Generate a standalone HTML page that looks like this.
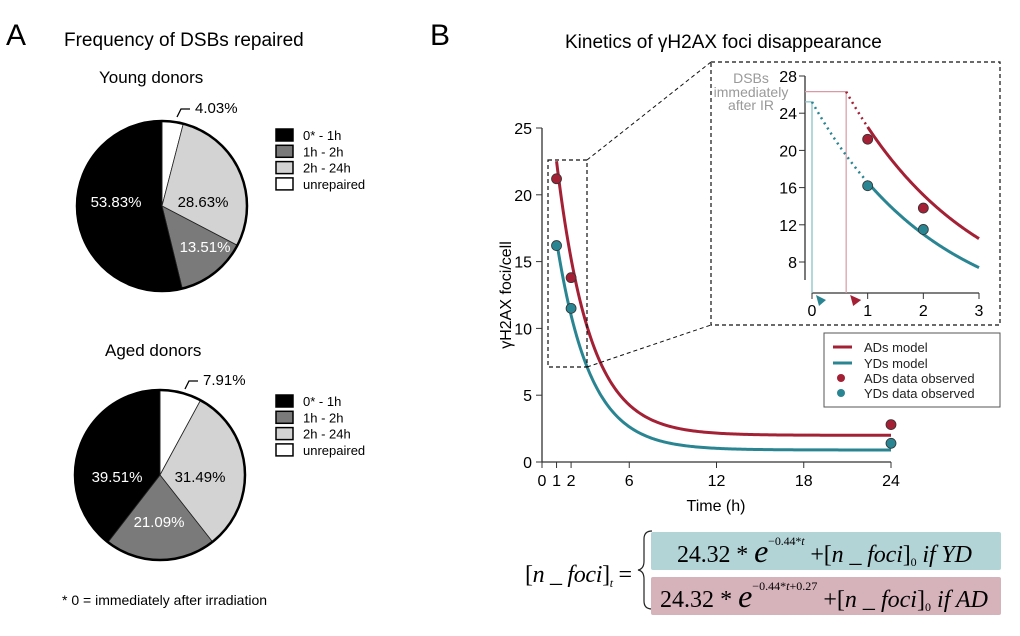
<!DOCTYPE html>
<html><head><meta charset="utf-8">
<style>
body{margin:0;background:#fff;}
svg{display:block;font-family:"Liberation Sans",Arial,sans-serif;}
.eq{font-family:"Liberation Serif","Times New Roman",serif;}
</style></head>
<body>
<svg id="fig" width="1020" height="636" viewBox="0 0 1020 636">
  <text x="6" y="45" font-size="30">A</text>
  <text x="64" y="46" font-size="19">Frequency of DSBs repaired</text>
  <text x="99" y="83" font-size="17">Young donors</text>
  <text x="105" y="356" font-size="17">Aged donors</text>
  <g id="pies"></g>
  <text x="62" y="605" font-size="14">* 0 = immediately after irradiation</text>

  <text x="430" y="45" font-size="30">B</text>
  <text x="565" y="48" font-size="19">Kinetics of γH2AX foci disappearance</text>
  <g id="main"></g>
  <g id="inset"></g>

  <g>
    <rect x="824" y="333" width="176" height="74" fill="#fff" stroke="#555" stroke-width="1"/>
    <line x1="833" y1="347" x2="852" y2="347" stroke="#a32035" stroke-width="3"/>
    <text x="864" y="352" font-size="13" fill="#222">ADs model</text>
    <line x1="833" y1="363" x2="852" y2="363" stroke="#2a8592" stroke-width="3"/>
    <text x="864" y="368" font-size="13" fill="#222">YDs model</text>
    <circle cx="841" cy="378" r="4" fill="#a32035"/>
    <text x="864" y="383" font-size="13" fill="#222">ADs data observed</text>
    <circle cx="841" cy="393" r="4" fill="#2a8592"/>
    <text x="864" y="398" font-size="13" fill="#222">YDs data observed</text>
  </g>

  <g class="eq">
    <text x="525" y="582" font-size="24" font-style="italic" textLength="107" lengthAdjust="spacing"><tspan font-style="normal">[</tspan>n _ foci<tspan font-style="normal">]</tspan><tspan font-size="12" dy="5">t</tspan><tspan dy="-5" font-style="normal"> =</tspan></text>
    <path d="M652 531 q-8 0 -8 8 v22 q0 8 -6 9 q6 1 6 9 v22 q0 8 8 8" fill="none" stroke="#222" stroke-width="1.2"/>
    <rect x="651" y="532" width="350" height="38" rx="2" fill="#b3d4d7"/>
    <rect x="651" y="577" width="350" height="38" rx="2" fill="#d6b2bb"/>
    <text x="677" y="562" font-size="24" textLength="295" lengthAdjust="spacing">24.32 * <tspan font-style="italic" font-size="32">e</tspan><tspan font-size="12" dy="-17">−0.44*<tspan font-style="italic">t</tspan></tspan><tspan dy="17"> +[</tspan><tspan font-style="italic">n _ foci</tspan>]<tspan font-size="12" dy="4">0</tspan><tspan dy="-4" font-style="italic"> if YD</tspan></text>
    <text x="660" y="607" font-size="24" textLength="328" lengthAdjust="spacing">24.32 * <tspan font-style="italic" font-size="32">e</tspan><tspan font-size="12" dy="-17">−0.44*<tspan font-style="italic">t</tspan>+0.27</tspan><tspan dy="17"> +[</tspan><tspan font-style="italic">n _ foci</tspan>]<tspan font-size="12" dy="4">0</tspan><tspan dy="-4" font-style="italic"> if AD</tspan></text>
  </g>
</svg>
<script>
const NS="http://www.w3.org/2000/svg";
function mk(p,tag,attrs,txt){const e=document.createElementNS(NS,tag);for(const k in attrs)e.setAttribute(k,attrs[k]);if(txt!==undefined)e.textContent=txt;p.appendChild(e);return e;}

// ---- Pie data ----
const pieCategories=["unrepaired","2h - 24h","1h - 2h","0* - 1h"];
const youngValues=[4.03,28.63,13.51,53.83];
const agedValues=[7.91,31.49,21.09,39.51];
const pieColors=["#ffffff","#d3d3d3","#7a7a7a","#000000"];
const legendOrder=["0* - 1h","1h - 2h","2h - 24h","unrepaired"];

// ---- Kinetics data ----
const timesObs=[1,2,24];
const adObs=[21.2,13.8,2.8];
const ydObs=[16.2,11.5,1.4];
const mainXTicks=[0,1,2,6,12,18,24];
const mainYTicks=[0,5,10,15,20,25];
const insetXTicks=[0,1,2,3];
const insetYTicks=[8,12,16,20,24,28];
const modelA=[24.32];
const modelK=[0.44];
const adShift=[0.27];
const ydBase=[0.9];
const adBase=[2.0];

const pies=document.getElementById('pies');
function drawPie(cx,cy,r,vals,prefix,labelPos,legY){
  const tot=vals.reduce((a,b)=>a+b,0);let a0=-Math.PI/2;
  vals.forEach((v,i)=>{
    const a1=a0+v/tot*2*Math.PI;
    const x0=cx+r*Math.cos(a0),y0=cy+r*Math.sin(a0),x1=cx+r*Math.cos(a1),y1=cy+r*Math.sin(a1);
    const large=(a1-a0)>Math.PI?1:0;
    const p=mk(pies,'path',{d:`M${cx},${cy}L${x0},${y0}A${r},${r} 0 ${large} 1 ${x1},${y1}Z`,fill:pieColors[i],stroke:'#222','stroke-width':0.8});
    
    
    a0=a1;
  });
  mk(pies,'circle',{cx,cy,r,fill:'none',stroke:'#000','stroke-width':2.5});
  vals.forEach((v,i)=>{
    const lp=labelPos[i];
    const t=mk(pies,'text',{x:lp[0],y:lp[1],'font-size':15,fill:(i>=2?'#fff':'#000'),'text-anchor':i===0?'start':'middle'},v.toFixed(2)+'%');
    
    
  });
  const l0=labelPos[0];
  mk(pies,'path',{d:`M${l0[0]-18},${l0[1]+4} l4,-8 h9`,fill:'none',stroke:'#000','stroke-width':1.3});
  legendOrder.forEach((c,j)=>{
    const idx=pieCategories.indexOf(c);
    const y=legY+j*16.3;
    const r2=mk(pies,'rect',{x:276,y:y-6,width:17,height:12,fill:pieColors[idx],stroke:'#000','stroke-width':1.5});
    
    
    const t=mk(pies,'text',{x:303,y:y+5,'font-size':13},c);
    
    
  });
}
drawPie(162,206,85,youngValues,'young',[[195,113],[203,207],[205,252],[116,207]],135);
drawPie(160,475,85,agedValues,'aged',[[203,385],[200,482],[159,527],[117,482]],401);

// ---- Main chart ----
const main=document.getElementById('main');
const X=t=>542+t*(349/24), Y=v=>462-v*(334/25);
const ydModel=t=>modelA[0]*Math.exp(-modelK[0]*t)+ydBase[0];
const adModel=t=>modelA[0]*Math.exp(-modelK[0]*t+adShift[0])+adBase[0];
mk(main,'line',{x1:542,y1:Y(25),x2:542,y2:462,stroke:'#333','stroke-width':1.3});
mk(main,'line',{x1:542,y1:462,x2:X(24),y2:462,stroke:'#333','stroke-width':1.3});
mainYTicks.forEach(v=>{mk(main,'line',{x1:536,y1:Y(v),x2:542,y2:Y(v),stroke:'#333'});
  const t=mk(main,'text',{x:532,y:Y(v)+6,'font-size':16,'text-anchor':'end'},v);});
mainXTicks.forEach(v=>{mk(main,'line',{x1:X(v),y1:462,x2:X(v),y2:468,stroke:'#333'});
  const t=mk(main,'text',{x:X(v),y:486,'font-size':16,'text-anchor':'middle'},v);});
const xt=mk(main,'text',{x:716,y:511,'font-size':16,'text-anchor':'middle'},'Time (h)');
const yt=mk(main,'text',{x:0,y:0,'font-size':16,'text-anchor':'middle',transform:'translate(511,295) rotate(-90)'},'γH2AX foci/cell');
function curve(g,f,t0,t1,X,Y,attrs){let d='';for(let i=0;i<=200;i++){const t=t0+(t1-t0)*i/200;d+=(i?'L':'M')+X(t).toFixed(2)+','+Y(f(t)).toFixed(2);}return mk(g,'path',Object.assign({d,fill:'none'},attrs));}
const cy=curve(main,ydModel,1,24,X,Y,{stroke:'#2a8592','stroke-width':3});
const ca=curve(main,adModel,1,24,X,Y,{stroke:'#a32035','stroke-width':3});
timesObs.forEach((t,i)=>{
  const a=mk(main,'circle',{cx:X(t),cy:Y(adObs[i]),r:5,fill:'#a32035',stroke:'#333','stroke-width':0.8});
  const b=mk(main,'circle',{cx:X(t),cy:Y(ydObs[i]),r:5,fill:'#2a8592',stroke:'#333','stroke-width':0.8});
});
// zoom box
const zb=mk(main,'rect',{x:548,y:160,width:39,height:207,fill:'none',stroke:'#111','stroke-dasharray':'4,3','stroke-width':1.2});
mk(main,'line',{x1:587,y1:160,x2:711,y2:62,stroke:'#111','stroke-dasharray':'4,3'});
mk(main,'line',{x1:587,y1:367,x2:711,y2:325,stroke:'#111','stroke-dasharray':'4,3'});
mk(main,'rect',{x:711,y:62,width:289,height:263,fill:'#fff',stroke:'#111','stroke-dasharray':'4,3','stroke-width':1.2});

// ---- Inset ----
const ins=document.getElementById('inset');
const IX=t=>812+t*(167/3), IY=v=>76+(28-v)*(186/20);
mk(ins,'line',{x1:805,y1:76,x2:805,y2:280,stroke:'#333','stroke-width':1.3});
mk(ins,'line',{x1:IX(0),y1:293,x2:IX(3),y2:293,stroke:'#333','stroke-width':1.3});
insetYTicks.forEach(v=>{mk(ins,'line',{x1:799,y1:IY(v),x2:805,y2:IY(v),stroke:'#333'});
  const t=mk(ins,'text',{x:797,y:IY(v)+6,'font-size':16,'text-anchor':'end'},v);});
insetXTicks.forEach(v=>{mk(ins,'line',{x1:IX(v),y1:293,x2:IX(v),y2:299,stroke:'#333'});
  const t=mk(ins,'text',{x:IX(v),y:316,'font-size':16,'text-anchor':'middle'},v);});
const adStart=adShift[0]/modelK[0];
const ydStartV=ydModel(0), adStartV=adModel(adStart);
mk(ins,'line',{x1:805,y1:IY(ydStartV),x2:IX(0),y2:IY(ydStartV),stroke:'#7fbfc6','stroke-width':1.2});
mk(ins,'line',{x1:IX(0),y1:IY(ydStartV),x2:IX(0),y2:293,stroke:'#7fbfc6','stroke-width':1.2});
mk(ins,'line',{x1:805,y1:IY(adStartV),x2:IX(adStart),y2:IY(adStartV),stroke:'#d99aa5','stroke-width':1.2});
mk(ins,'line',{x1:IX(adStart),y1:IY(adStartV),x2:IX(adStart),y2:293,stroke:'#d99aa5','stroke-width':1.2});
curve(ins,ydModel,0,1,IX,IY,{stroke:'#2a8592','stroke-width':2.5,'stroke-dasharray':'2,4'});
curve(ins,adModel,adStart,1,IX,IY,{stroke:'#a32035','stroke-width':2.5,'stroke-dasharray':'2,4'});
const iy=curve(ins,ydModel,1,3,IX,IY,{stroke:'#2a8592','stroke-width':3});
const ia=curve(ins,adModel,1,3,IX,IY,{stroke:'#a32035','stroke-width':3});
timesObs.forEach((t,i)=>{ if(t>3) return;
  const a=mk(ins,'circle',{cx:IX(t),cy:IY(adObs[i]),r:5,fill:'#a32035',stroke:'#333','stroke-width':0.8});
  const b=mk(ins,'circle',{cx:IX(t),cy:IY(ydObs[i]),r:5,fill:'#2a8592',stroke:'#333','stroke-width':0.8});
});
mk(ins,'path',{d:`M${IX(0)+4},295 l10,5 l-7,6 z`,fill:'#2a8592'});
mk(ins,'path',{d:`M${IX(adStart)+4},295 l11,5 l-8,6 z`,fill:'#a32035'});
const an=mk(ins,'text',{'font-size':14,fill:'#999','text-anchor':'middle'});


[['DSBs',83],['immediately',97],['after IR',110]].forEach(([s,y])=>{mk(an,'tspan',{x:751,y},s);});
</script>
</body></html>
